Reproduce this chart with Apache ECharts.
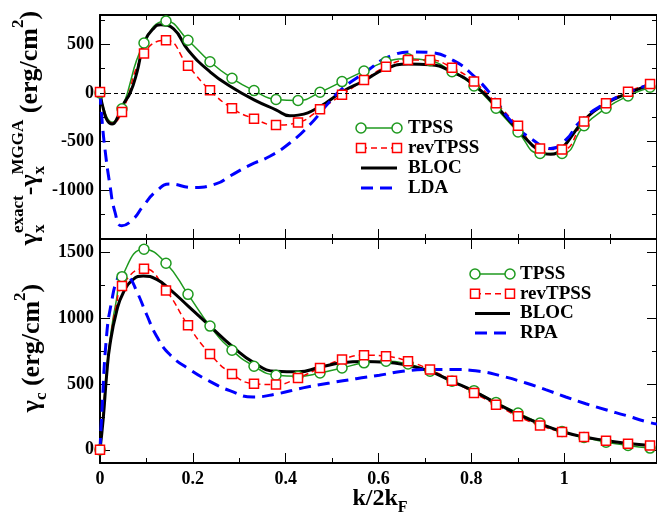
<!DOCTYPE html>
<html>
<head>
<meta charset="utf-8">
<script src="https://cdn.jsdelivr.net/npm/echarts@6/dist/echarts.min.js"></script>
<style>
  html, body { margin: 0; padding: 0; background: #fff; }
  #chart { width: 657px; height: 514px; }
</style>
</head>
<body>
<div id="chart"></div>
<script>
// k/2kF positions of the TPSS / revTPSS markers
const kMarks = [0, 0.0474, 0.0948, 0.1422, 0.1896, 0.2370, 0.2844, 0.3318, 0.3792, 0.4266,
  0.4740, 0.5214, 0.5688, 0.6162, 0.6636, 0.7110, 0.7584, 0.8058, 0.8532, 0.9006,
  0.9480, 0.9954, 1.0428, 1.0902, 1.1376, 1.1850];

// Exchange: gamma_x^exact - gamma_x^MGGA (erg/cm^2)
const exTPSS = [0, -163, 513, 738, 541, 320, 150, 24, -68, -78, 7, 116, 224, 320, 350, 330,
  218, 71, -157, -401, -622, -622, -337, -157, -31, 58];
const exRevTPSS = [10, -197, 405, 541, 279, 27, -157, -265, -330, -303, -167, -20, 133, 269,
  337, 337, 258, 116, -105, -337, -571, -582, -293, -105, 13, 92];
// unmarked points along the small-k dip
const exDipK = [0.013, 0.026];
const exDipTPSS = [-230, -300];
const exDipRevTPSS = [-240, -310];

const exBLOCk = [0, 0.008, 0.016, 0.026, 0.038, 0.05, 0.065, 0.08, 0.095, 0.115, 0.131, 0.158,
  0.19, 0.237, 0.284, 0.332, 0.379, 0.409, 0.427, 0.474, 0.521, 0.569, 0.616, 0.664, 0.711,
  0.758, 0.806, 0.853, 0.9, 0.948, 0.971, 0.995, 1.043, 1.09, 1.138, 1.185];
const exBLOC = [0, -180, -285, -320, -250, -120, 0, 220, 507, 660, 700, 660, 439, 217, 58, -71,
  -173, -235, -228, -140, 10, 125, 250, 296, 290, 217, 82, -133, -378, -600, -630, -570, -280,
  -112, -3, 82];

const exLDAk = [0, 0.0037, 0.0108, 0.0215, 0.0323, 0.0467, 0.0716, 0.0931, 0.122, 0.15,
  0.2, 0.251, 0.28, 0.323, 0.366, 0.409, 0.452, 0.495, 0.523, 0.566, 0.631, 0.674,
  0.71, 0.76, 0.803, 0.846, 0.889, 0.932, 0.971, 1.004, 1.032, 1.075, 1.133, 1.183];
const exLDA = [0, -242, -582, -949, -1224, -1364, -1296, -1160, -1007, -935, -972,
  -932, -854, -741, -650, -514, -327, -88, 48, 194, 388, 421, 415, 337, 184, -37, -309, -480,
  -571, -480, -306, -146, -3, 82];

// Correlation: gamma_c (erg/cm^2)
const cTPSS = [0, 1314, 1522, 1416, 1180, 939, 756, 634, 566, 558, 583, 621, 660, 672, 652, 596,
  520, 449, 360, 279, 203, 139, 94, 58, 33, 13];
const cRevTPSS = [0, 1243, 1375, 1210, 946, 728, 576, 502, 495, 545, 621, 685, 718, 710, 672,
  609, 525, 431, 342, 254, 185, 135, 97, 68, 46, 33];
// unmarked points along the steep initial rise
const cRiseK = [0.006, 0.014, 0.024, 0.035];
const cRiseTPSS = [230, 600, 900, 1130];
const cRiseRevTPSS = [230, 590, 880, 1090];

const cBLOCk = [0, 0.0071, 0.0144, 0.0215, 0.0359, 0.0501, 0.0716, 0.0931, 0.122, 0.1505, 0.19,
  0.237, 0.2845, 0.332, 0.379, 0.427, 0.474, 0.521, 0.568, 0.616, 0.664, 0.711, 0.758,
  0.806, 0.853, 0.9, 0.948, 0.995, 1.043, 1.09, 1.138, 1.185];
const cBLOC = [0, 241, 571, 799, 1053, 1192, 1294, 1319, 1294, 1218, 1091, 939, 786, 660, 596,
  592, 627, 660, 670, 665, 639, 596, 520, 444, 355, 271, 198, 139, 97, 71, 48, 33];

const cRPAk = [0, 0.0037, 0.0144, 0.0252, 0.0359, 0.0467, 0.0609, 0.0789, 0.1004, 0.122, 0.1505,
  0.1935, 0.2366, 0.2796, 0.3297, 0.38, 0.4372, 0.4946, 0.552, 0.602, 0.652, 0.7026, 0.76,
  0.817, 0.867, 0.9177, 0.96, 1.0036, 1.0467, 1.0897, 1.1327, 1.1757, 1.2];
const cRPA = [0, 266, 875, 1129, 1281, 1337, 1319, 1205, 1027, 862, 723, 609, 520, 449, 401, 424,
  470, 507, 540, 566, 596, 609, 609, 596, 558, 507, 457, 401, 350, 304, 261, 215, 195];

// Tick values
const xTicks = [0, 0.2, 0.4, 0.6, 0.8, 1];
const exTicks = [-1000, -500, 0, 500];
const exMinorTicks = [-1250, -750, -250, 250, 750];
const cTicks = [0, 500, 1000, 1500];
const cMinorTicks = [250, 750, 1250];

const topLegend = ['TPSS', 'revTPSS', 'BLOC', 'LDA'];
const bottomLegend = ['TPSS', 'revTPSS', 'BLOC', 'RPA'];

const FONT = '"Liberation Serif", "Times New Roman", serif';
const GREEN = '#1f9a1f', RED = '#ff0000', BLUE = '#0000ff', BLACK = '#000000';

const pairs = (xs, ys) => xs.map((x, i) => [x, ys[i]]);
const withHidden = (xs, ys, hx, hy) =>
  pairs(xs, ys).map(p => ({ value: p }))
    .concat(pairs(hx, hy).map(p => ({ value: p, symbol: 'none' })))
    .sort((a, b) => a.value[0] - b.value[0]);

const chart = echarts.init(document.getElementById('chart'), null, { renderer: 'canvas' });

function xAxis(grid, pos, labels) {
  return {
    type: 'value', gridIndex: grid, position: pos, min: 0, max: 1.2, interval: 0.2,
    axisLine: { show: true, onZero: false, lineStyle: { color: BLACK, width: 2 } },
    axisTick: { show: true, inside: true, length: 10, lineStyle: { color: BLACK, width: 1 } },
    minorTick: { show: true, splitNumber: 2, length: 5, lineStyle: { color: BLACK, width: 1 } },
    splitLine: { show: false }, minorSplitLine: { show: false },
    axisLabel: labels ? {
      show: true, customValues: xTicks, margin: 7, color: BLACK,
      fontFamily: FONT, fontWeight: 'bold', fontSize: 18, formatter: v => String(v)
    } : { show: false }
  };
}

function yAxis(grid, pos, min, max, ticks, major, labels) {
  return {
    type: 'value', gridIndex: grid, position: pos, min: min, max: max,
    axisLine: { show: major, onZero: false, lineStyle: { color: BLACK, width: 2 } },
    axisTick: { show: true, inside: true, length: major ? 10 : 5, customValues: ticks,
      lineStyle: { color: BLACK, width: 1 } },
    minorTick: { show: false },
    splitLine: { show: false },
    axisLabel: labels ? {
      show: true, customValues: ticks, margin: 6, color: BLACK,
      fontFamily: FONT, fontWeight: 'bold', fontSize: 18, formatter: v => String(v)
    } : { show: false }
  };
}

// Multi-size text (sub/superscripts) laid out along a baseline
function styledText(groups, cx, cy, rotation) {
  const ctx = document.createElement('canvas').getContext('2d');
  const placed = [];
  let pos = 0;
  groups.forEach(g => {
    let adv = 0;
    g.forEach(p => {
      ctx.font = 'bold ' + p.s + 'px ' + FONT;
      const w = ctx.measureText(p.t).width;
      placed.push({ p: p, x: pos });
      adv = Math.max(adv, w);
    });
    pos += adv;
  });
  const half = pos / 2;
  return {
    type: 'group', x: cx, y: cy, rotation: rotation, z: 100,
    children: placed.map(o => ({
      type: 'text', x: o.x - half, y: (o.p.dy || 0) - 0.3 * o.p.s,
      style: {
        text: o.p.t, font: 'bold ' + o.p.s + 'px ' + FONT, fill: BLACK,
        align: 'left', verticalAlign: 'middle', textAlign: 'left', textVerticalAlign: 'middle'
      }
    }))
  };
}

const legendStyles = {
  TPSS: { color: GREEN, width: 1.5, dash: null, mark: 'circle' },
  revTPSS: { color: RED, width: 1.5, dash: [6, 4], mark: 'rect' },
  BLOC: { color: BLACK, width: 3, dash: null, mark: null },
  LDA: { color: BLUE, width: 3, dash: [12, 7], mark: null },
  RPA: { color: BLUE, width: 3, dash: [12, 7], mark: null }
};

function legendBlock(names, x1, x2, tx, y0, dy) {
  const els = [];
  names.forEach((n, i) => {
    const s = legendStyles[n];
    const y = y0 + i * dy;
    els.push({ type: 'line', z: 100, shape: { x1: x1, y1: y, x2: x2, y2: y },
      style: { stroke: s.color, lineWidth: s.width, lineDash: s.dash } });
    [x1, x2].forEach(x => {
      if (s.mark === 'circle') {
        els.push({ type: 'circle', z: 101, shape: { cx: x, cy: y, r: 5 },
          style: { fill: '#fff', stroke: s.color, lineWidth: 1.5 } });
      } else if (s.mark === 'rect') {
        els.push({ type: 'rect', z: 101, shape: { x: x - 4.5, y: y - 4.5, width: 9, height: 9 },
          style: { fill: '#fff', stroke: s.color, lineWidth: 1.5 } });
      }
    });
    els.push({ type: 'text', z: 101, x: tx, y: y,
      style: { text: n, font: 'bold 19px ' + FONT, fill: BLACK,
        align: 'left', verticalAlign: 'middle', textAlign: 'left', textVerticalAlign: 'middle' } });
  });
  return els;
}

function markerSeries(name, data, xi, yi, color, dash, symbol) {
  return {
    name: name, type: 'line', xAxisIndex: xi, yAxisIndex: yi, data: data,
    smooth: 0.5, showSymbol: true, symbol: symbol,
    symbolSize: symbol === 'circle' ? 10 : 9,
    lineStyle: { color: color, width: 1.5, type: dash },
    itemStyle: { color: '#fff', borderColor: color, borderWidth: 1.5 },
    animation: false, silent: true
  };
}

function plainSeries(name, data, xi, yi, color, width, dash) {
  return {
    name: name, type: 'line', xAxisIndex: xi, yAxisIndex: yi, data: data,
    smooth: 0.5, showSymbol: false, symbol: 'none',
    lineStyle: { color: color, width: width, type: dash },
    animation: false, silent: true
  };
}

const bloc0 = plainSeries('BLOC', pairs(exBLOCk, exBLOC), 0, 0, BLACK, 3, 'solid');
bloc0.markLine = {
  silent: true, symbol: 'none', label: { show: false }, animation: false,
  lineStyle: { color: BLACK, width: 1, type: [4, 3] },
  data: [{ yAxis: 0 }]
};

const option = {
  animation: false,
  backgroundColor: '#fff',
  grid: [
    { left: 100, top: 15, width: 558, height: 224 },
    { left: 100, top: 239, width: 558, height: 224 }
  ],
  xAxis: [
    xAxis(0, 'bottom', false),
    xAxis(0, 'top', false),
    xAxis(1, 'bottom', true),
    xAxis(1, 'top', false)
  ],
  yAxis: [
    yAxis(0, 'left', -1500, 800, exTicks, true, true),
    yAxis(0, 'left', -1500, 800, exMinorTicks, false, false),
    yAxis(0, 'right', -1500, 800, exTicks, true, false),
    yAxis(0, 'right', -1500, 800, exMinorTicks, false, false),
    yAxis(1, 'left', -100, 1600, cTicks, true, true),
    yAxis(1, 'left', -100, 1600, cMinorTicks, false, false),
    yAxis(1, 'right', -100, 1600, cTicks, true, false),
    yAxis(1, 'right', -100, 1600, cMinorTicks, false, false)
  ],
  series: [
    markerSeries('TPSS', withHidden(kMarks, exTPSS, exDipK, exDipTPSS), 0, 0, GREEN, 'solid', 'circle'),
    markerSeries('revTPSS', withHidden(kMarks, exRevTPSS, exDipK, exDipRevTPSS), 0, 0, RED, [6, 4], 'rect'),
    bloc0,
    plainSeries('LDA', pairs(exLDAk, exLDA), 0, 0, BLUE, 3, [12, 7]),
    markerSeries('TPSS', withHidden(kMarks, cTPSS, cRiseK, cRiseTPSS), 2, 4, GREEN, 'solid', 'circle'),
    markerSeries('revTPSS', withHidden(kMarks, cRevTPSS, cRiseK, cRiseRevTPSS), 2, 4, RED, [6, 4], 'rect'),
    plainSeries('BLOC', pairs(cBLOCk, cBLOC), 2, 4, BLACK, 3, 'solid'),
    plainSeries('RPA', pairs(cRPAk, cRPA), 2, 4, BLUE, 3, [12, 7])
  ],
  graphic: [
    styledText([
      [{ t: 'γ', s: 26 }],
      [{ t: 'x', s: 17, dy: 7 }, { t: 'exact', s: 17, dy: -14 }],
      [{ t: '-γ', s: 26 }],
      [{ t: 'x', s: 17, dy: 7 }, { t: 'MGGA', s: 17, dy: -14 }],
      [{ t: ' (erg/cm', s: 26 }],
      [{ t: '2', s: 17, dy: -14 }],
      [{ t: ')', s: 26 }]
    ], 38, 128, Math.PI / 2),
    styledText([
      [{ t: 'γ', s: 26 }],
      [{ t: 'c', s: 17, dy: 7 }],
      [{ t: ' (erg/cm', s: 26 }],
      [{ t: '2', s: 17, dy: -14 }],
      [{ t: ')', s: 26 }]
    ], 40, 348, Math.PI / 2),
    styledText([
      [{ t: 'k/2k', s: 24 }],
      [{ t: 'F', s: 16, dy: 7 }]
    ], 380, 506, 0)
  ].concat(
    legendBlock(topLegend, 361, 397, 408, 128, 20),
    legendBlock(bottomLegend, 475, 510, 520, 274, 19.7)
  )
};

chart.setOption(option);
</script>
</body>
</html>
